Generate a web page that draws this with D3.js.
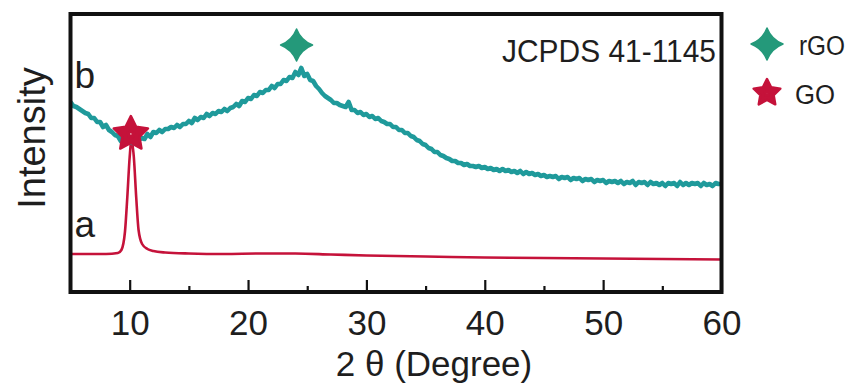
<!DOCTYPE html>
<html>
<head>
<meta charset="utf-8">
<script src="https://cdn.jsdelivr.net/npm/d3@7/dist/d3.min.js"></script>
<style>
  html, body { margin: 0; padding: 0; background: #fff; }
  svg { display: block; }
  text { font-family: "Liberation Sans", Arial, sans-serif; fill: #1e1e1e; }
</style>
</head>
<body>
<svg id="chart" width="852" height="386"></svg>
<script>
// ---- data -------------------------------------------------------------
// x axis: 2θ in degrees
const xDomain = [5, 60];
const xTickValues = [10, 20, 30, 40, 50, 60];
const xMinorTicks = [15, 25, 35, 45, 55];
const yDomain = [0, 278];  // intensity, arbitrary units

// pattern a: GO, sharp (001) reflection near 10°
const goTheta     = [5, 8, 9, 9.3, 9.6, 9.8, 10.0, 10.15, 10.35, 10.55, 10.75, 11.05, 11.5, 12, 13, 15, 18, 21, 24, 27, 30, 35, 40, 45, 50, 55, 60];
const goIntensity = [38, 38, 39, 42, 60, 95, 135, 152, 135, 95, 62, 48, 43, 41, 39.5, 38.5, 38, 38.5, 38.5, 37.5, 36.5, 35.5, 34.5, 34, 33.5, 33, 32.5];

// pattern b: rGO, broad (002) hump near 24°, recorded every 0.25° from 5° to 60°
const rgoStart = 5, rgoStep = 0.25;
const rgoIntensity = [
  190,186,185,183,181,179,178,174,174,170,170,165,167,162,160,157,156,151,153,149,
  150,149,151,152,154,153,158,155,160,159,162,160,163,163,165,164,167,165,168,168,
  171,169,174,172,175,174,178,176,179,178,181,180,183,181,184,185,188,186,191,190,
  194,193,197,196,200,199,202,202,206,204,208,208,212,211,215,214,220,217,224,216,
  218,212,211,206,203,199,196,194,192,189,189,187,186,185,190,182,182,179,180,177,
  178,175,176,173,174,171,170,168,168,165,165,162,162,159,159,156,155,152,151,148,
  147,144,143,140,140,137,136,134,133,131,131,129,129,127,128,126,126,125,126,124,
  125,123,124,122,123,121,123,121,122,120,121,119,121,118,120,118,119,117,118,116,
  117,115,116,115,116,113,115,114,115,112,114,113,114,111,113,112,113,110,112,111,
  112,109,111,110,111,109,111,108,110,109,111,107,110,109,110,107,110,108,109,107,
  109,106,109,108,109,106,110,107,109,107,109,108,109,106,109,107,108,106,109,108,
  108
];

// peak markers (position in 2θ, intensity)
const markers = [
  { phase: "rGO", theta: 24.1, intensity: 247 },
  { phase: "GO",  theta: 10.1, intensity: 158 }
];
const legendItems = ["rGO", "GO"];
const curveLabels = [
  { text: "b", theta: 6.2, intensity: 204 },
  { text: "a", theta: 6.2, intensity: 55 }
];
const refCard = "JCPDS 41-1145";

// ---- styles -----------------------------------------------------------
const teal = "#1f9a9b";
const markerGreen = "#24997a";
const crimson = "#c5123a";

// ---- layout -----------------------------------------------------------
const svg = d3.select("#chart");
const plot = { left: 70.5, right: 721.5, top: 14, bottom: 292 };

const x = d3.scaleLinear().domain(xDomain).range([plot.left, plot.right]);
const y = d3.scaleLinear().domain(yDomain).range([plot.bottom, plot.top]);

svg.append("defs").append("clipPath").attr("id", "plotClip")
  .append("rect")
  .attr("x", plot.left).attr("y", plot.top)
  .attr("width", plot.right - plot.left).attr("height", plot.bottom - plot.top);

const rgoData = rgoIntensity.map((v, i) => ({ t: rgoStart + i * rgoStep, v }));
const goData = goTheta.map((t, i) => ({ t, v: goIntensity[i] }));

const g = svg.append("g").attr("clip-path", "url(#plotClip)");

g.append("path").datum(goData)
  .attr("d", d3.line().x(d => x(d.t)).y(d => y(d.v)).curve(d3.curveMonotoneX))
  .attr("fill", "none").attr("stroke", crimson)
  .attr("stroke-width", 2.6).attr("stroke-linejoin", "round");

g.append("path").datum(rgoData)
  .attr("d", d3.line().x(d => x(d.t)).y(d => y(d.v)).curve(d3.curveLinear))
  .attr("fill", "none").attr("stroke", teal)
  .attr("stroke-width", 4.6).attr("stroke-linejoin", "round");

// ---- marker shapes ----------------------------------------------------
function starPath(R, r, cx, cy) {
  const pts = [];
  for (let k = 0; k < 10; k++) {
    const rad = k % 2 === 0 ? R : r;
    const a = -Math.PI / 2 + k * Math.PI / 5;
    pts.push([cx + rad * Math.cos(a), cy + rad * Math.sin(a)]);
  }
  return "M" + pts.map(p => p.join(",")).join("L") + "Z";
}
function hollowStar(R) {
  // outer star with a small star-shaped hole in the middle
  return starPath(R, R * 0.5, 0, 0) + starPath(R * 0.2, R * 0.1, 0, 0);
}
function sparkle(R) {
  const c = R * 0.28;
  return `M0,${-R}Q${c},${-c} ${R},0Q${c},${c} 0,${R}Q${-c},${c} ${-R},0Q${-c},${-c} 0,${-R}Z`;
}
function drawMarker(sel, phase, size) {
  if (phase === "GO") {
    sel.append("path").attr("d", hollowStar(size))
      .attr("fill", crimson).attr("fill-rule", "evenodd")
      .attr("stroke", crimson).attr("stroke-width", 2.5).attr("stroke-linejoin", "round");
  } else {
    sel.append("path").attr("d", sparkle(size))
      .attr("fill", markerGreen).attr("stroke", markerGreen)
      .attr("stroke-width", 1.5).attr("stroke-linejoin", "round");
  }
}

markers.forEach(m => {
  const mg = svg.append("g").attr("transform", `translate(${x(m.theta)},${y(m.intensity)})`);
  drawMarker(mg, m.phase, m.phase === "GO" ? 18 : 16);
});

// ---- frame and axis ---------------------------------------------------
svg.append("rect")
  .attr("x", plot.left).attr("y", plot.top)
  .attr("width", plot.right - plot.left).attr("height", plot.bottom - plot.top)
  .attr("fill", "none").attr("stroke", "#111").attr("stroke-width", 4);

const xAxis = svg.append("g").attr("transform", `translate(0,${plot.bottom})`)
  .call(d3.axisBottom(x).tickValues(xTickValues).tickSize(-12).tickPadding(18).tickFormat(d3.format("d")));
xAxis.select(".domain").remove();
xAxis.selectAll(".tick line").attr("stroke", "#111").attr("stroke-width", 2.2);
xAxis.selectAll(".tick text").attr("font-size", 35).attr("fill", "#1e1e1e")
  .attr("font-family", "Liberation Sans, Arial, sans-serif");

svg.append("g").attr("transform", `translate(0,${plot.bottom})`)
  .call(d3.axisBottom(x).tickValues(xMinorTicks).tickSize(-6).tickFormat(""))
  .call(a => a.select(".domain").remove())
  .selectAll(".tick line").attr("stroke", "#111").attr("stroke-width", 2.2);

// axis titles
svg.append("text")
  .attr("x", 434).attr("y", 376)
  .attr("text-anchor", "middle").attr("font-size", 35)
  .text("2 θ (Degree)");

svg.append("text")
  .attr("transform", "translate(45,138) rotate(-90)")
  .attr("text-anchor", "middle").attr("font-size", 38)
  .text("Intensity");

// curve labels
curveLabels.forEach(c => {
  svg.append("text")
    .attr("x", x(c.theta)).attr("y", y(c.intensity))
    .attr("text-anchor", "middle").attr("font-size", 37)
    .text(c.text);
});

// reference card
svg.append("text")
  .attr("x", 502).attr("y", 62)
  .attr("font-size", 31).attr("textLength", 214).attr("lengthAdjust", "spacingAndGlyphs")
  .text(refCard);

// ---- legend -----------------------------------------------------------
const legend = svg.append("g").attr("transform", "translate(767,44)");
legendItems.forEach((name, i) => {
  const row = legend.append("g").attr("transform", `translate(0,${i * 49})`);
  drawMarker(row, name, name === "GO" ? 14 : 16);
  row.append("text")
    .attr("x", name === "GO" ? 28 : 32).attr("y", 11)
    .attr("font-family", "Lato, 'Open Sans', sans-serif")
    .attr("font-size", 27)
    .attr("textLength", name === "GO" ? 40 : 46)
    .attr("lengthAdjust", "spacingAndGlyphs")
    .text(name);
});
</script>
</body>
</html>
